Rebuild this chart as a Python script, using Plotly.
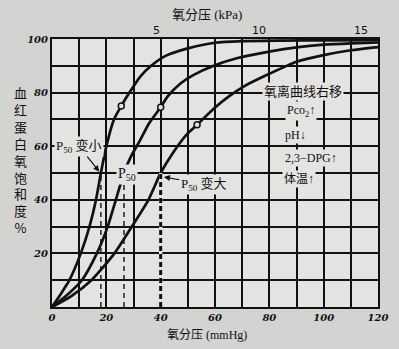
import plotly.graph_objects as go

# Oxygen partial pressure (mmHg) vs. haemoglobin O2 saturation (%)
left_x = [0, 3, 6.4, 10.6, 13.8, 16.2, 18, 20, 22.8, 25.5, 28.5, 32.5, 36.5, 42, 50, 60, 70, 85, 100, 120]
left_y = [0, 4.5, 10, 20, 30, 40, 50, 60, 70, 75, 80, 86, 90, 93.8, 96.5, 98.6, 99.2, 99.4, 99.5, 99.6]

mid_x = [0, 5, 11, 16.5, 20.5, 23.5, 26.5, 29, 32.3, 35.7, 40, 42.5, 47.4, 52, 59.5, 68, 80, 90, 100, 110, 120]
mid_y = [0, 4, 10, 20, 30, 40, 50, 56, 62, 68.5, 74.5, 78.5, 83.5, 86.5, 90, 92.8, 95.3, 96.9, 97.9, 98.4, 98.7]

right_x = [0, 7, 14.5, 23, 29.4, 35.5, 40, 44.5, 49.7, 53.4, 59.5, 65, 71, 80, 90, 100, 110, 120]
right_y = [0, 4, 10, 20, 30, 40, 50, 57.5, 64.5, 68, 74, 78.5, 82.5, 87, 91.5, 94, 95.8, 97]

# marked points on each curve
circle_x = [25.5, 40, 53.4]
circle_y = [75, 74.5, 68]

# P50 of each curve
p50 = [18, 26.5, 40]

x_ticks = [0, 20, 40, 60, 80, 100, 120]
y_ticks = [20, 40, 60, 80, 100]
kpa_ticks = [5, 10, 15]
MMHG_PER_KPA = 7.50062

PAPER_BG = "#d3d3d1"
PLOT_BG = "#e3e3e1"
INK = "#111111"
CJK = "Noto Sans CJK SC"
SERIF = "Liberation Serif, Noto Sans CJK SC"

W, H = 399, 349
L, R, T, B = 52, 21, 39, 42


def px_x(p):
    return (p - L) / (W - L - R)


def px_y(p):
    return (H - B - p) / (H - T - B)


fig = go.Figure()

for xs, ys in [(left_x, left_y), (mid_x, mid_y), (right_x, right_y)]:
    fig.add_trace(go.Scatter(x=xs, y=ys, mode="lines",
                             line=dict(color=INK, width=2.7, shape="spline", smoothing=0.6),
                             hoverinfo="skip", showlegend=False))

# dashed guide lines at 50 % saturation
fig.add_trace(go.Scatter(x=[0, p50[2]], y=[50, 50], mode="lines",
                         line=dict(color=INK, width=1.4, dash="5px,4px"), showlegend=False))
fig.add_trace(go.Scatter(x=[p50[0], p50[0]], y=[0, 50], mode="lines",
                         line=dict(color=INK, width=1.4, dash="5px,4px"), showlegend=False))
fig.add_trace(go.Scatter(x=[p50[1], p50[1]], y=[0, 46], mode="lines",
                         line=dict(color=INK, width=1.4, dash="5px,4px"), showlegend=False))
# the 40 mmHg grid line turns into a heavy dashed line below 50 %
fig.add_trace(go.Scatter(x=[p50[2], p50[2]], y=[0.5, 50], mode="lines",
                         line=dict(color=PLOT_BG, width=3.4), showlegend=False))
fig.add_trace(go.Scatter(x=[p50[2], p50[2]], y=[0, 50], mode="lines",
                         line=dict(color=INK, width=3, dash="5px,3px"), showlegend=False))

fig.add_trace(go.Scatter(x=circle_x, y=circle_y, mode="markers",
                         marker=dict(symbol="circle", size=6, color=PLOT_BG,
                                     line=dict(color=INK, width=1.5)),
                         showlegend=False))

grid_minor = dict(dtick=10, showgrid=True, gridcolor=INK, gridwidth=2, ticks="")

fig.update_layout(
    width=W, height=H,
    margin=dict(l=L, r=R, t=T, b=B),
    paper_bgcolor=PAPER_BG, plot_bgcolor=PLOT_BG,
    xaxis=dict(range=[0, 120], tickmode="array", tickvals=x_ticks,
               ticktext=[f"<b><i>{v}</i></b>" for v in x_ticks],
               showgrid=True, gridcolor=INK, gridwidth=2, minor=grid_minor,
               showline=True, linecolor=INK, linewidth=2, mirror=True,
               ticks="", zeroline=False,
               tickfont=dict(family="DejaVu Serif", size=10, color=INK)),
    yaxis=dict(range=[0, 100], tickmode="array", tickvals=y_ticks,
               ticktext=[f"<b><i>{v}</i></b>" for v in y_ticks],
               showgrid=True, gridcolor=INK, gridwidth=2, minor=grid_minor,
               showline=True, linecolor=INK, linewidth=2, mirror=True,
               ticks="", zeroline=False,
               tickfont=dict(family="DejaVu Serif", size=10, color=INK)),
)

ann = []
# kPa scale along the top edge
for k in kpa_ticks:
    ann.append(dict(text=str(k), x=k * MMHG_PER_KPA, y=px_y(31), yref="paper",
                    xanchor="center", yanchor="middle", xshift=3, showarrow=False,
                    font=dict(family="DejaVu Sans", size=11, color=INK)))

# axis titles
ann.append(dict(text="氧分压 (kPa)", x=px_x(207), y=px_y(15), xref="paper", yref="paper",
                xanchor="center", yanchor="middle",
                showarrow=False, font=dict(family=SERIF, size=13, color=INK)))
ann.append(dict(text="氧分压 (mmHg)", x=px_x(207), y=px_y(335), xref="paper", yref="paper",
                xanchor="center", yanchor="middle",
                showarrow=False, font=dict(family=SERIF, size=12, color=INK)))
ann.append(dict(text="<br>".join(list("血红蛋白氧饱和度%")), x=px_x(20), y=px_y(160),
                xref="paper", yref="paper", xanchor="center", yanchor="middle",
                showarrow=False, font=dict(family=CJK, size=13, color=INK)))

# P50 labels
ann.append(dict(text="P<sub>50</sub> 变小", x=p50[0] - 0.6, y=50.5, ax=-20, ay=-25,
                showarrow=True, arrowhead=2, arrowsize=1, arrowwidth=1.2, arrowcolor=INK,
                bgcolor=PLOT_BG, font=dict(family=SERIF, size=13, color=INK)))
ann.append(dict(text="P<sub>50</sub>", x=27.5, y=49.5, showarrow=False, bgcolor=PLOT_BG,
                font=dict(family=SERIF, size=14, color=INK)))
ann.append(dict(text="P<sub>50</sub> 变大", x=p50[2] + 1.2, y=48.5, ax=40, ay=7,
                showarrow=True, arrowhead=2, arrowsize=1, arrowwidth=1.2, arrowcolor=INK,
                bgcolor=PLOT_BG, font=dict(family=SERIF, size=13, color=INK)))

# right-shift factors
for text, cx, cy, fs in [("氧离曲线右移", 303, 92, 13), ("Pco<sub>2</sub>↑", 301, 111, 12),
                         ("pH↓", 295, 135, 12), ("2,3−DPG↑", 311, 158, 12), ("体温↑", 299, 179, 12)]:
    ann.append(dict(text=text, x=px_x(cx), y=px_y(cy), xref="paper", yref="paper",
                    xanchor="center", yanchor="middle",
                    showarrow=False, bgcolor=PLOT_BG, borderpad=1,
                    font=dict(family=SERIF, size=fs, color=INK)))

fig.update_layout(annotations=ann)
fig.write_html("out.html")
